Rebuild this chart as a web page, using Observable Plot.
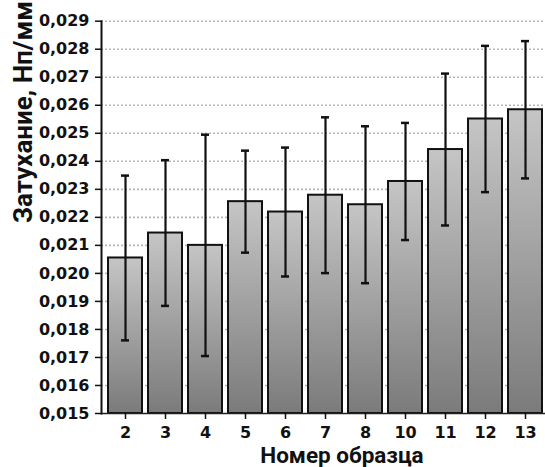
<!DOCTYPE html>
<html>
<head>
<meta charset="utf-8">
<script src="https://cdn.jsdelivr.net/npm/d3@7"></script>
<script src="https://cdn.jsdelivr.net/npm/@observablehq/plot@0.6"></script>
<style>
  html, body { margin: 0; padding: 0; background: #fff; overflow: hidden; }
  #chart svg { display: block; }
</style>
</head>
<body>
<div id="chart"></div>
<script>
const samples = ["2", "3", "4", "5", "6", "7", "8", "10", "11", "12", "13"];
const means = [0.02055, 0.02144, 0.02100, 0.02256, 0.02219, 0.02279, 0.02245, 0.02328, 0.02442, 0.02551, 0.02584];
const errors = [0.00294, 0.00260, 0.00395, 0.00182, 0.00230, 0.00278, 0.00280, 0.00209, 0.00271, 0.00261, 0.00245];
const yTicks = [0.015, 0.016, 0.017, 0.018, 0.019, 0.020, 0.021, 0.022, 0.023, 0.024, 0.025, 0.026, 0.027, 0.028, 0.029];
const yTitle = "Затухание, Нп/мм";
const xTitle = "Номер образца";

const rows = samples.map((s, i) => ({
  sample: s,
  mean: means[i],
  lo: means[i] - errors[i],
  hi: means[i] + errors[i]
}));

const fmt = d => d.toFixed(3).replace(".", ",");
const base = yTicks[0];

const gradientDefs = () => {
  const defs = d3.create("svg:defs");
  const g = defs.append("linearGradient")
    .attr("id", "barGrad")
    .attr("x1", 0).attr("y1", 0).attr("x2", 0).attr("y2", 1);
  g.append("stop").attr("offset", "0%").attr("stop-color", "#c5c5c5");
  g.append("stop").attr("offset", "100%").attr("stop-color", "#7b7b7b");
  return defs.node();
};

const chart = Plot.plot({
  width: 545,
  height: 467,
  marginLeft: 101,
  marginRight: -2.9,
  marginTop: 20.7,
  marginBottom: 54,
  style: {
    fontFamily: "DejaVu Sans",
    fontWeight: "bold",
    fontSize: "16px",
    color: "#111",
    background: "#fff"
  },
  x: {
    type: "band",
    domain: samples,
    paddingInner: 0.16,
    paddingOuter: 0.08,
    label: null
  },
  y: {
    domain: [yTicks[0], yTicks[yTicks.length - 1]],
    label: null
  },
  marks: [
    gradientDefs,
    Plot.ruleY(yTicks.slice(1), {
      stroke: "#b5b5b5",
      strokeWidth: 1.6,
      strokeDasharray: "2,2"
    }),
    Plot.barY(rows, {
      x: "sample",
      y1: () => base,
      y2: "mean",
      fill: "url(#barGrad)",
      stroke: "#111",
      strokeWidth: 2
    }),
    Plot.ruleX(rows, {
      x: "sample",
      y1: "lo",
      y2: "hi",
      stroke: "#111",
      strokeWidth: 2.2
    }),
    Plot.tickY(rows, {
      x: "sample",
      y: "lo",
      stroke: "#111",
      strokeWidth: 2.5,
      insetLeft: 13,
      insetRight: 13
    }),
    Plot.tickY(rows, {
      x: "sample",
      y: "hi",
      stroke: "#111",
      strokeWidth: 2.5,
      insetLeft: 13,
      insetRight: 13
    }),
    Plot.ruleY([base], { stroke: "#222", strokeWidth: 1.5 }),
    Plot.axisY({
      ticks: yTicks,
      tickFormat: fmt,
      tickSize: 6,
      tickPadding: 6,
      stroke: "#111",
      strokeWidth: 1.5,
      label: null
    }),
    Plot.axisX({
      tickSize: 6,
      tickPadding: 7,
      stroke: "#111",
      strokeWidth: 1.5,
      label: null
    }),
    Plot.frame({ anchor: "left", stroke: "#111", strokeWidth: 2 }),
    Plot.text([xTitle], {
      text: d => d,
      frameAnchor: "bottom",
      lineAnchor: "middle",
      dx: 17,
      dy: 41.8,
      fontFamily: "Roboto",
      fontWeight: "bold",
      fontSize: 22.5,
      fill: "#111"
    }),
    Plot.text([yTitle], {
      text: d => d,
      frameAnchor: "left",
      lineAnchor: "middle",
      rotate: -90,
      dx: -78.3,
      dy: 5.7,
      fontFamily: "Roboto",
      fontWeight: "bold",
      fontSize: 26,
      fill: "#111"
    })
  ]
});

document.getElementById("chart").appendChild(chart);
</script>
</body>
</html>
